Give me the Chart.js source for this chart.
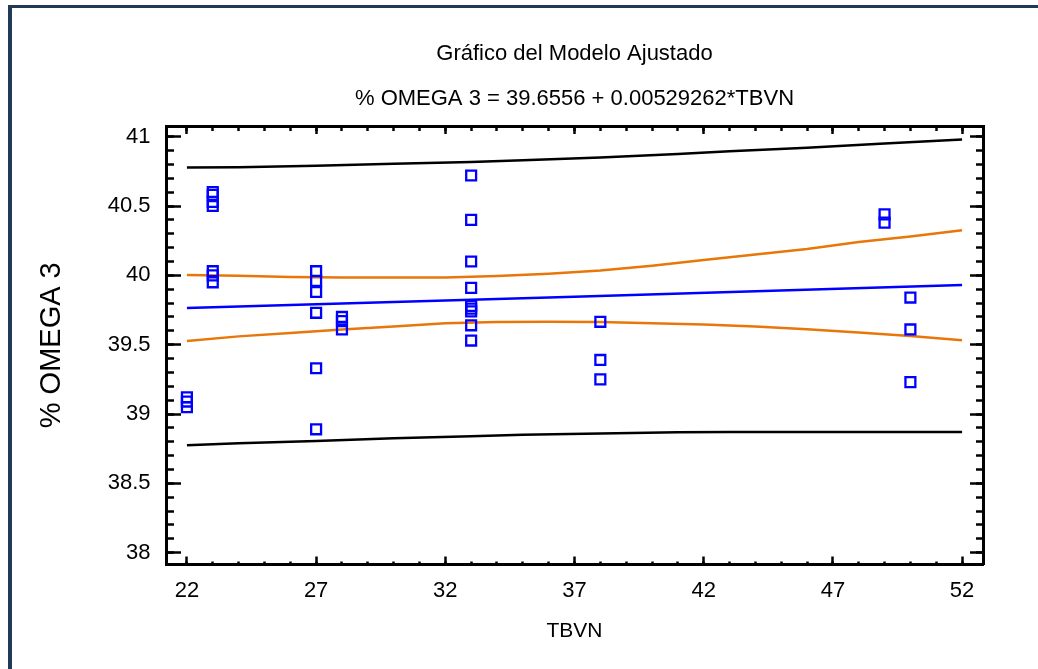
<!DOCTYPE html>
<html>
<head>
<meta charset="utf-8">
<script src="https://cdn.jsdelivr.net/npm/chart.js@4.4.1/dist/chart.umd.min.js"></script>
<style>
  html, body { margin: 0; padding: 0; background: #fff; }
  #frame { position: absolute; left: 8px; top: 5px; width: 1200px; height: 900px; border-left: 4px solid #203a58; border-top: 3.5px solid #203a58; }
  #wrap { position: absolute; left: 0; top: 0; width: 1038px; height: 669px; }
</style>
</head>
<body>
<div id="frame"></div>
<div id="wrap"><canvas id="chart" width="1038" height="669"></canvas></div>
<script>
// observaciones (TBVN, % OMEGA 3)
const pointX = [22, 22, 22,
  23, 23, 23, 23, 23, 23, 23,
  27, 27, 27, 27, 27, 27,
  28, 28, 28,
  33, 33, 33, 33, 33, 33, 33, 33, 33,
  38, 38, 38,
  49, 49,
  50, 50, 50];
const pointY = [39.12, 39.09, 39.05,
  40.60, 40.58, 40.53, 40.50, 40.03, 40.00, 39.95,
  40.03, 39.96, 39.88, 39.73, 39.33, 38.89,
  39.70, 39.67, 39.61,
  40.72, 40.40, 40.10, 39.91, 39.78, 39.76, 39.74, 39.64, 39.53,
  39.665, 39.39, 39.25,
  40.44, 40.38,
  39.84, 39.61, 39.23];

// modelo ajustado
const fitX = [22, 37, 52];
const fitY = [39.765, 39.845, 39.93];

// limites de confianza (naranja)
const confX = [22, 24, 26, 28, 30, 32, 34, 36, 38, 40, 42, 44, 46, 48, 50, 52];
const confUpper = [40.003, 39.998, 39.988, 39.985, 39.984, 39.985, 39.995, 40.012, 40.035, 40.07, 40.11, 40.15, 40.19, 40.24, 40.28, 40.325];
const confLower = [39.527, 39.56, 39.585, 39.61, 39.632, 39.655, 39.664, 39.666, 39.664, 39.655, 39.645, 39.632, 39.612, 39.588, 39.563, 39.532];

// limites de prediccion (negro)
const predX = [22, 24, 27, 30, 33, 35, 38, 41, 43, 46, 49, 52];
const predUpper = [40.777, 40.78, 40.79, 40.805, 40.818, 40.83, 40.85, 40.875, 40.895, 40.92, 40.95, 40.98];
const predLower = [38.775, 38.79, 38.805, 38.825, 38.84, 38.85, 38.86, 38.868, 38.87, 38.87, 38.87, 38.87];

const xTicks = [22, 27, 32, 37, 42, 47, 52];
const xTickLabels = ['22', '27', '32', '37', '42', '47', '52'];
const yTicks = [38, 38.5, 39, 39.5, 40, 40.5, 41];
const yTickLabels = ['38', '38.5', '39', '39.5', '40', '40.5', '41'];

const xMin = 21.19, xMax = 52.81;
const yMin = 37.915, yMax = 41.077;

function toXY(xs, ys) {
    return xs.map(function (x, i) { return { x: x, y: ys[i] }; });
}

let xMinorTicks = [];
for (let v = 22; v <= 52; v++) xMinorTicks.push(v);
let yMinorTicks = [];
for (let k = 380; k <= 410; k++) yMinorTicks.push(k / 10);

const FONT = 'Liberation Sans, Arial, sans-serif';

function lineSet(xs, ys, color) {
    return {
        type: 'line',
        data: toXY(xs, ys),
        borderColor: color,
        borderWidth: 2.5,
        pointRadius: 0,
        tension: 0,
        fill: false
    };
}

// eje auxiliar solo con marcas
function tickAxis(position, weight, values, length, border, isX) {
    return {
        type: 'linear',
        position: position,
        weight: weight,
        min: isX ? xMin : yMin,
        max: isX ? xMax : yMax,
        afterBuildTicks: function (scale) {
            scale.ticks = values.map(function (v) { return { value: v }; });
        },
        afterFit: function (scale) {
            if (isX) scale.height = 0; else scale.width = 0;
        },
        ticks: { display: false },
        grid: { drawOnChartArea: false, drawTicks: true, tickLength: -length, tickWidth: 2.5, tickColor: '#000' },
        border: { display: border, color: '#000', width: 3 }
    };
}

let ctx = document.getElementById('chart').getContext('2d');

let chart = new Chart(ctx, {
    data: {
        datasets: [
            {
                type: 'scatter',
                data: toXY(pointX, pointY),
                pointStyle: 'rect',
                pointRadius: 7,
                borderColor: '#0000ff',
                backgroundColor: 'rgba(0,0,0,0)',
                borderWidth: 2.3
            },
            lineSet(fitX, fitY, '#0000ff'),
            lineSet(confX, confUpper, '#e8770a'),
            lineSet(confX, confLower, '#e8770a'),
            lineSet(predX, predUpper, '#000000'),
            lineSet(predX, predLower, '#000000')
        ]
    },
    options: {
        responsive: false,
        animation: false,
        events: [],
        layout: { padding: { left: 0, right: 55, top: 0, bottom: 0 } },
        plugins: {
            legend: { display: false },
            tooltip: { enabled: false },
            title: {
                display: true,
                fullSize: false,
                text: 'Gráfico del Modelo Ajustado',
                color: '#000',
                font: { family: FONT, size: 22, weight: 'normal' },
                padding: { top: 40.3, bottom: 0 }
            },
            subtitle: {
                display: true,
                fullSize: false,
                text: '% OMEGA 3 = 39.6556 + 0.00529262*TBVN',
                color: '#000',
                font: { family: FONT, size: 22, weight: 'normal' },
                padding: { top: 18.6, bottom: 14.3 }
            }
        },
        scales: {
            x: {
                type: 'linear',
                position: 'bottom',
                weight: 1,
                min: xMin,
                max: xMax,
                afterBuildTicks: function (scale) {
                    scale.ticks = xTicks.map(function (v) { return { value: v }; });
                },
                afterFit: function (scale) { scale.height = 104.5; },
                ticks: {
                    autoSkip: false,
                    maxRotation: 0,
                    padding: 21,
                    color: '#000',
                    font: { family: FONT, size: 22 },
                    callback: function (value, index) { return xTickLabels[index]; }
                },
                grid: { drawOnChartArea: false, drawTicks: true, tickLength: -8, tickWidth: 2.5, tickColor: '#000' },
                border: { display: true, color: '#000', width: 3 },
                title: {
                    display: true,
                    text: 'TBVN',
                    color: '#000',
                    font: { family: FONT, size: 21 },
                    padding: { top: 0, bottom: 25 }
                }
            },
            xMinor: tickAxis('bottom', 0, xMinorTicks, 3, false, true),
            xTop: tickAxis('top', 1, xTicks, 8, true, true),
            xTopMinor: tickAxis('top', 0, xMinorTicks, 5, false, true),
            y: {
                type: 'linear',
                position: 'left',
                weight: 1,
                min: yMin,
                max: yMax,
                afterBuildTicks: function (scale) {
                    scale.ticks = yTicks.map(function (v) { return { value: v }; });
                },
                afterFit: function (scale) { scale.width = 166; },
                ticks: {
                    autoSkip: false,
                    padding: 30.5,
                    color: '#000',
                    font: { family: FONT, size: 22 },
                    callback: function (value, index) { return yTickLabels[index]; }
                },
                grid: { drawOnChartArea: false, drawTicks: true, tickLength: -15, tickWidth: 2.5, tickColor: '#000' },
                border: { display: true, color: '#000', width: 3 },
                title: {
                    display: true,
                    text: '% OMEGA 3',
                    color: '#000',
                    font: { family: FONT, size: 29 },
                    padding: { top: 35, bottom: 0 }
                }
            },
            yMinor: tickAxis('left', 0, yMinorTicks, 8, false, false),
            yRight: tickAxis('right', 1, yTicks, 13, true, false),
            yRightMinor: tickAxis('right', 0, yMinorTicks, 7, false, false)
        }
    }
});
</script>
</body>
</html>
